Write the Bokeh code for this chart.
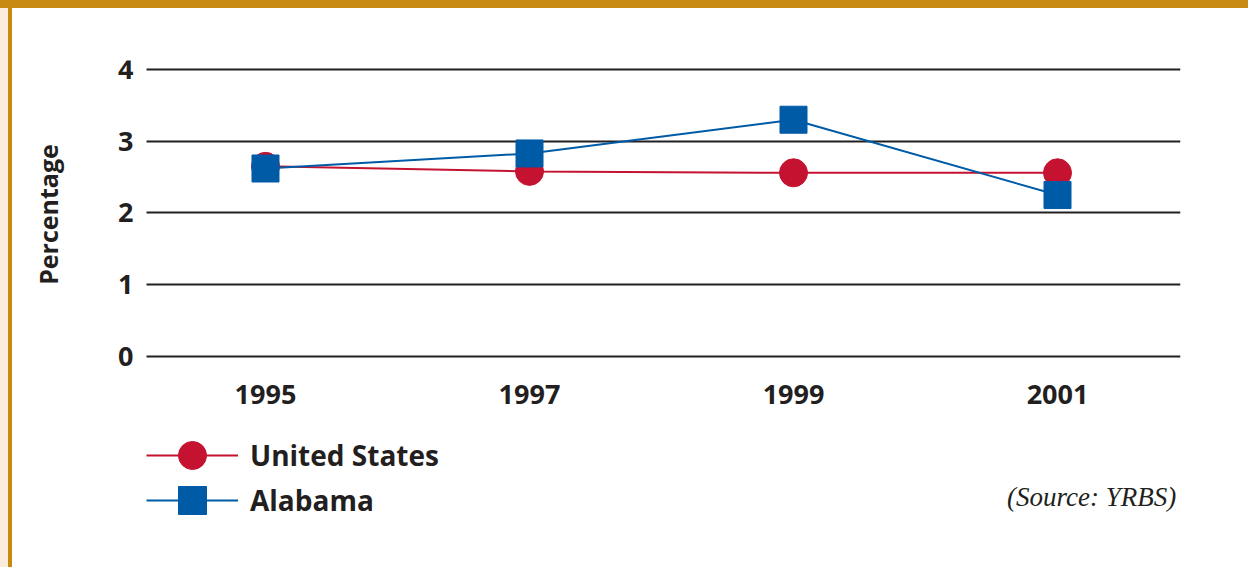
import math
from bokeh.plotting import figure
from bokeh.models import (Range1d, FixedTicker, Legend, LegendItem, Label, Grid,
                          ColumnDataSource)
from bokeh.embed import file_html
from bokeh.resources import INLINE

# ---- data ----
years = [1995, 1997, 1999, 2001]
us_values = [2.65, 2.58, 2.56, 2.56]
alabama_values = [2.62, 2.83, 3.30, 2.25]
y_ticks = [0, 1, 2, 3, 4]
series_names = ["United States", "Alabama"]
source_note = "(Source: YRBS)"
y_title = "Percentage"

RED = "#C41230"
BLUE = "#005BA6"
INK = "#231F20"
GOLD = "#C98A14"
BEIGE = "#FAEDDD"
FONT = "Open Sans"

bg = (f"linear-gradient({GOLD},{GOLD}) 0 0/100% 8px no-repeat, "
      f"linear-gradient({GOLD},{GOLD}) 8px 0/4px 100% no-repeat, "
      f"linear-gradient({BEIGE},{BEIGE}) 0 0/8px 100% no-repeat, #ffffff")

# layout: frame x 26..1180 px, y 60..562 px ; y=0 at px 356, 71.75 px/unit ; 132 px/year
X0, X1 = 1993.1894, 2001.9318
GRID_X0 = 1994.0985  # left end of the plotting area (px 146)
p = figure(width=1248, height=567, output_backend="svg", toolbar_location=None,
           x_range=Range1d(X0, X1), y_range=Range1d(-2.8711, 4.1254),
           x_axis_location="above",
           min_border_left=26, min_border_right=68, min_border_top=60, min_border_bottom=5,
           styles={"position": "absolute", "left": "0px", "top": "0px", "background": bg})
p.border_fill_alpha = 0
p.background_fill_color = "white"
p.outline_line_color = None

# axes
p.xaxis.ticker = FixedTicker(ticks=years)
p.yaxis.ticker = FixedTicker(ticks=y_ticks)
for ax in (p.xaxis[0], p.yaxis[0]):
    ax.axis_line_color = None
    ax.major_tick_line_color = None
    ax.minor_tick_line_color = None
    ax.major_tick_in = 0
    ax.major_tick_out = 0
    ax.minor_tick_out = 0
    ax.major_label_text_font = FONT
    ax.major_label_text_font_style = "bold"
    ax.major_label_text_font_size = "27px"
    ax.major_label_text_color = INK
p.xaxis.fixed_location = -0.7526
p.xaxis.major_label_standoff = 6
p.yaxis.fixed_location = GRID_X0
p.yaxis.major_label_standoff = 13

p.xgrid.grid_line_color = None
if "cross_bounds" in Grid.properties():
    p.ygrid.ticker = FixedTicker(ticks=y_ticks)
    p.ygrid.grid_line_color = INK
    p.ygrid.grid_line_width = 2
    p.ygrid.cross_bounds = (GRID_X0, X1)
else:
    p.ygrid.grid_line_color = None
    p.segment(x0=[GRID_X0] * len(y_ticks), x1=[X1] * len(y_ticks), y0=y_ticks, y1=y_ticks,
              line_color=INK, line_width=2)

src = ColumnDataSource(dict(year=years, us=us_values, al=alabama_values))

us_line = p.line("year", "us", source=src, line_color=RED, line_width=2)
us_pts = p.scatter("year", "us", source=src, marker="circle", size=28,
                   fill_color=RED, line_color=RED)
al_line = p.line("year", "al", source=src, line_color=BLUE, line_width=2)
al_pts = p.scatter("year", "al", source=src, marker="square", size=27,
                   fill_color=BLUE, line_color=BLUE)

legend_style = dict(orientation="vertical", glyph_width=92, glyph_height=70,
                    padding=0, margin=0, label_standoff=12, border_line_alpha=0,
                    background_fill_alpha=0, label_text_font=FONT,
                    label_text_font_style="bold", label_text_font_size="28px",
                    label_text_color=INK)
legend_us = Legend(items=[LegendItem(label=series_names[0], renderers=[us_line, us_pts])],
                   location=(120, 72), **legend_style)
legend_al = Legend(items=[LegendItem(label=series_names[1], renderers=[al_line, al_pts])],
                   location=(120, 27), **legend_style)
p.add_layout(legend_us, "center")
p.add_layout(legend_al, "center")

ylab = Label(x=1993.3485, y=1.979, text=y_title, angle=math.pi / 2,
             text_align="center", text_baseline="middle", text_font=FONT,
             text_font_style="bold", text_font_size="25px", text_color=INK)
p.add_layout(ylab)

note = Label(x=2001.90, y=-1.965, text=source_note, text_align="right",
             text_baseline="middle", text_font="Liberation Serif",
             text_font_style="italic", text_font_size="27px", text_color=INK)
p.add_layout(note)

open("out.html", "w").write(file_html(p, INLINE))
